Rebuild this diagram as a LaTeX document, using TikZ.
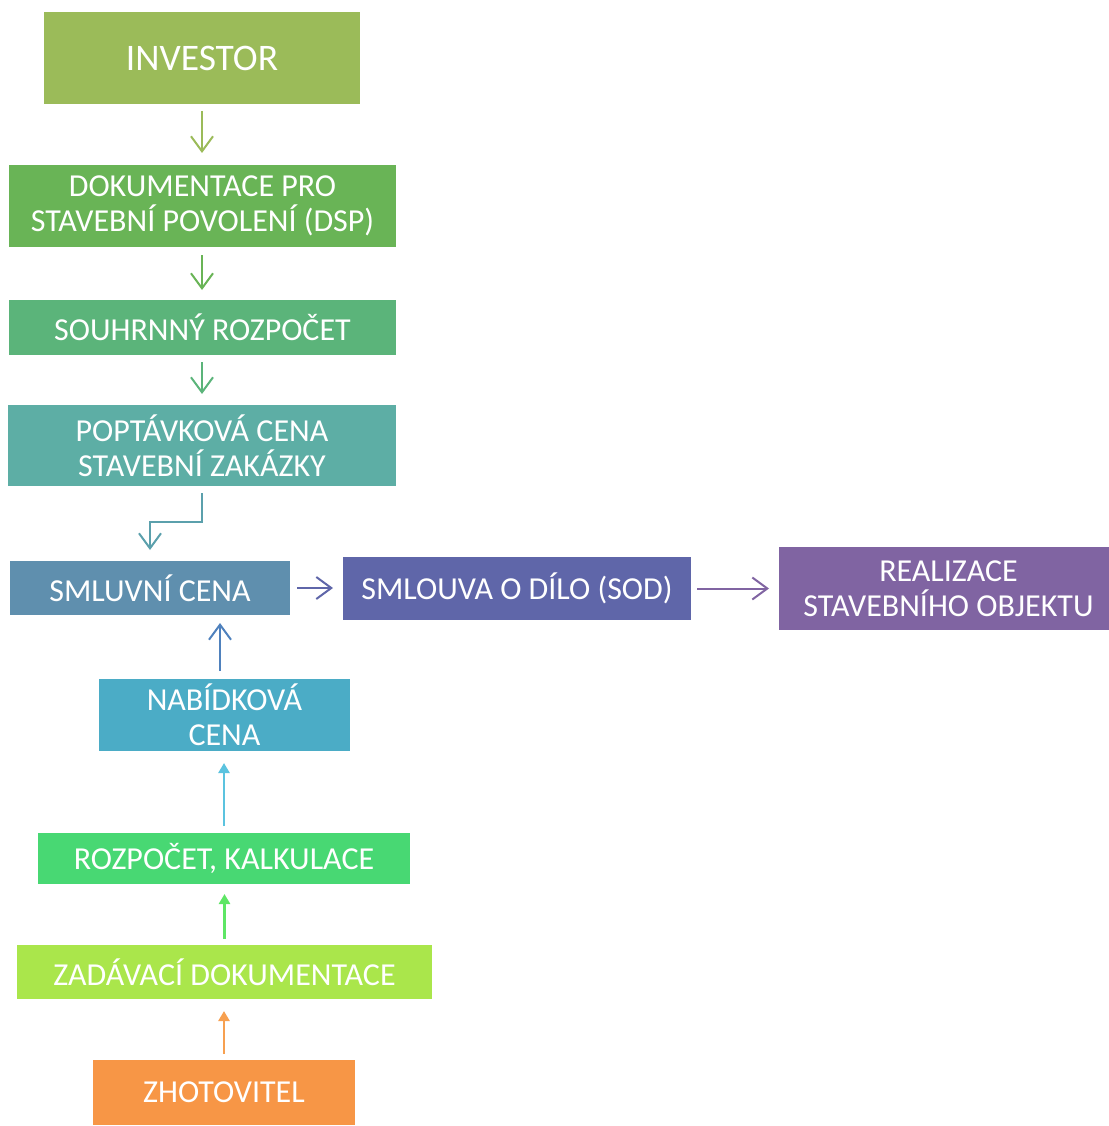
\documentclass[tikz,border=0pt]{standalone}
\usepackage{fontspec}
\setmainfont{Carlito}
\usetikzlibrary{arrows.meta}
\definecolor{cinv}{HTML}{9BBB59}
\definecolor{cdsp}{HTML}{69B456}
\definecolor{csou}{HTML}{5BB47A}
\definecolor{cpop}{HTML}{5DAEA5}
\definecolor{csml}{HTML}{5F8FAE}
\definecolor{csod}{HTML}{5F66A9}
\definecolor{creal}{HTML}{8064A2}
\definecolor{cnab}{HTML}{4BACC6}
\definecolor{croz}{HTML}{48D873}
\definecolor{czad}{HTML}{AAE64B}
\definecolor{czho}{HTML}{F79646}
\definecolor{apop}{HTML}{5BA0AC}
\definecolor{anab}{HTML}{4F81BD}
\definecolor{aroz}{HTML}{5BC3DF}
\definecolor{azad}{HTML}{5EE665}
\definecolor{azho}{HTML}{F7A050}
\tikzset{
  box/.style={inner sep=0pt, outer sep=0pt, text=white, align=center,
    font=\fontsize{32}{35}\selectfont},
  openarr/.style={line width=2pt, -{Straight Barb[length=15pt,width=22pt]}},
  smallarr/.style={line width=2.8pt, -{Triangle[length=10pt,width=11pt]}},
}
\begin{document}
\begin{tikzpicture}[x=1pt,y=-1pt]
\path[use as bounding box] (0,0) rectangle (1108,1126);
\node[box, fill=cinv, minimum width=316, minimum height=92, font=\fontsize{37.5}{40}\selectfont] (inv) at (202,58) {INVESTOR};
\node[box, fill=cdsp, minimum width=387, minimum height=82] (dsp) at (202.5,206) {DOKUMENTACE PRO\\STAVEBNÍ POVOLENÍ (DSP)};
\node[box, fill=csou, minimum width=387, minimum height=55] (sou) at (202.5,327.5) {SOUHRNNÝ ROZPOČET};
\node[box, fill=cpop, minimum width=388, minimum height=81] (pop) at (202,445.5) {POPTÁVKOVÁ CENA\\STAVEBNÍ ZAKÁZKY};
\node[box, fill=csml, minimum width=280, minimum height=54] (sml) at (150,588) {SMLUVNÍ CENA};
\node[box, fill=csod, minimum width=348, minimum height=63] (sod) at (517,588.5) {SMLOUVA O DÍLO (SOD)};
\node[box, fill=creal, minimum width=339, minimum height=83] (real) at (948.5,588.5) {REALIZACE\\STAVEBNÍHO OBJEKTU};
\node[box, fill=cnab, minimum width=251, minimum height=72] (nab) at (224.5,715) {NABÍDKOVÁ\\CENA};
\node[box, fill=croz, minimum width=372, minimum height=51] (roz) at (224,858.5) {ROZPOČET, KALKULACE};
\node[box, fill=czad, minimum width=415, minimum height=54] (zad) at (224.5,972) {ZADÁVACÍ DOKUMENTACE};
\node[box, fill=czho, minimum width=262, minimum height=65] (zho) at (224,1092.5) {ZHOTOVITEL};
% connectors
\draw[openarr, cinv, shorten <=7pt, shorten >=12pt] (inv.south) -- (inv.south |- dsp.north);
\draw[openarr, cdsp, shorten <=8pt, shorten >=10pt] ([xshift=-0.5pt]dsp.south) -- ([xshift=-0.5pt]dsp.south |- sou.north);
\draw[openarr, csou, shorten <=7pt, shorten >=11pt] ([xshift=-0.5pt]sou.south) -- ([xshift=-0.5pt]sou.south |- pop.north);
\draw[openarr, apop, shorten <=7pt, shorten >=11pt] (pop.south) -- ++(0,36) -| (sml.north);
\draw[openarr, csod, shorten <=7pt, shorten >=10pt] (sml.east) -- (sml.east -| sod.west);
\draw[openarr, creal, shorten <=6pt, shorten >=10pt] (sod.east) -- (sod.east -| real.west);
\draw[openarr, anab, shorten <=8pt, shorten >=8pt] ([xshift=-4.5pt]nab.north) -- ([xshift=-4.5pt]nab.north |- sml.south);
\draw[smallarr, aroz, shorten <=7pt, shorten >=12pt] (roz.north) -- (roz.north |- nab.south);
\draw[smallarr, azad, shorten <=6pt, shorten >=10pt] (zad.north) -- (zad.north |- roz.south);
\draw[smallarr, azho, shorten <=6pt, shorten >=12pt] (zho.north) -- (zho.north |- zad.south);
\end{tikzpicture}
\end{document}
